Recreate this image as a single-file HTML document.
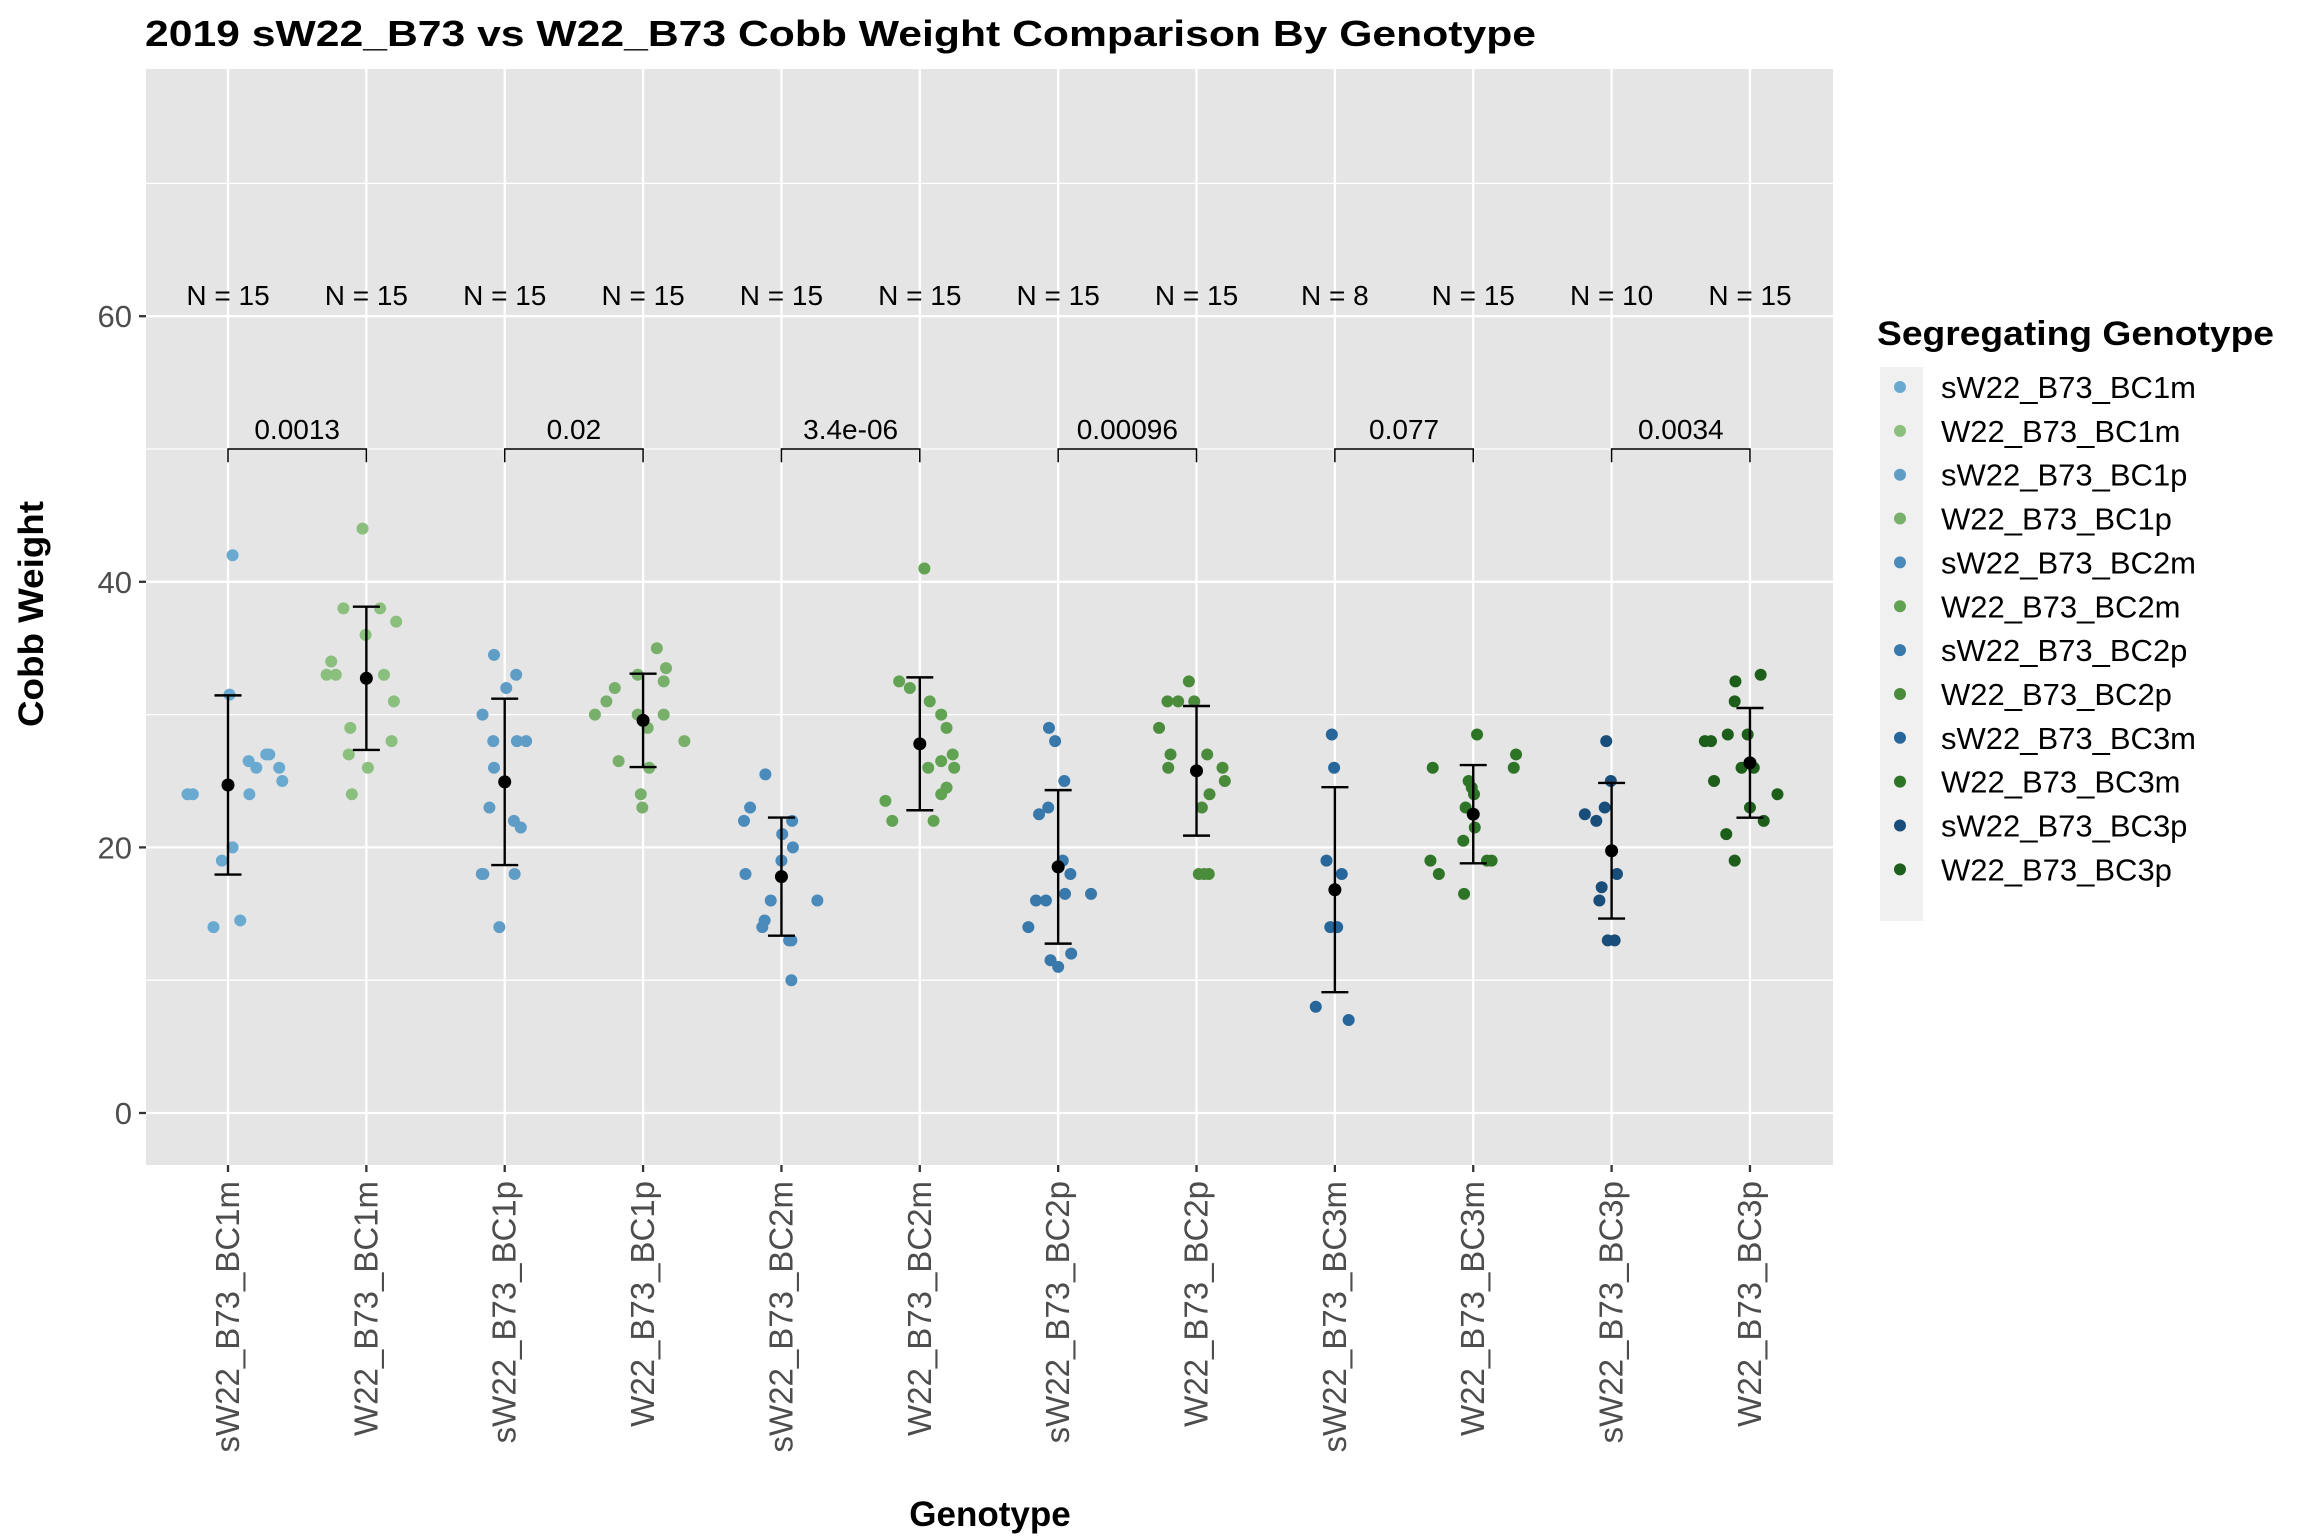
<!DOCTYPE html>
<html><head><meta charset="utf-8"><style>
html,body{margin:0;padding:0;background:#fff;}
svg{display:block;font-family:"Liberation Sans",Arial,sans-serif;}
</style></head><body>
<svg id="chart" width="2304" height="1536" viewBox="0 0 2304 1536" xmlns="http://www.w3.org/2000/svg">
<rect x="0" y="0" width="2304" height="1536" fill="#fff"/>
<text x="145" y="46" font-size="36" font-weight="bold" textLength="1391" lengthAdjust="spacingAndGlyphs">2019 sW22_B73 vs W22_B73 Cobb Weight Comparison By Genotype</text>
<rect x="146" y="69" width="1687" height="1096" fill="#e5e5e5"/>
<g id="grid"></g>
<g id="marks"></g>
<text transform="translate(43,614) rotate(-90)" text-anchor="middle" font-size="35" font-weight="bold" textLength="226" lengthAdjust="spacingAndGlyphs">Cobb Weight</text>
<text x="990" y="1526" text-anchor="middle" font-size="35" font-weight="bold">Genotype</text>
<g id="legend">
<text x="1877" y="345" font-size="34" font-weight="bold" textLength="397" lengthAdjust="spacingAndGlyphs">Segregating Genotype</text>
<rect x="1880" y="367" width="43" height="554" fill="#f0f0f0"/>
</g>
</svg>
<script>
const categories = ["sW22_B73_BC1m","W22_B73_BC1m","sW22_B73_BC1p","W22_B73_BC1p","sW22_B73_BC2m","W22_B73_BC2m","sW22_B73_BC2p","W22_B73_BC2p","sW22_B73_BC3m","W22_B73_BC3m","sW22_B73_BC3p","W22_B73_BC3p"];
const colors = ["#6aaad0","#8bbf7e","#5f9cc6","#78b06b","#4b8bbb","#62a253","#3878ab","#4a8c3c","#26669a","#2d7426","#1a4e7a","#1d5e1a"];
const values = [
 [24,24,42,31.5,26.5,26,27,27,26,25,24,20,19,14,14.5],
 [44,38,38,37,36,34,33,33,33,31,29,28,27,26,24],
 [34.5,33,32,30,28,28,28,26,23,22,21.5,18,18,18,14],
 [35,33.5,33,32.5,32,31,30,30,30,29,28,26.5,26,24,23],
 [25.5,23,22,22,21,20,19,18,16,16,14.5,14,13,13,10],
 [41,32.5,32,31,30,29,27,26.5,26,26,24.5,24,23.5,22,22],
 [29,28,25,23,22.5,19,18,16.5,16.5,16,16,14,12,11.5,11],
 [32.5,31,31,31,29,27,27,26,26,25,24,23,18,18,18],
 [28.5,26,19,18,14,14,8,7],
 [28.5,27,26,26,25,24,23,21.5,20.5,19,19,18,16.5,19,24.5],
 [28,25,23,22.5,22,18,17,16,13,13],
 [33,32.5,31,28.5,28.5,28,28,26,26,25,24,23,22,21,19]
];
// horizontal jitter (fraction of category spacing)
const jitter = [
 [-53,-46,6,2,27,37,50,54,67,71,28,6,-8,-19,16],
 [-5,-30,18,39,-1,-46,-52,-40,23,36,-21,33,-23,2,-19],
 [-14,15,2,-29,-15,16,28,-14,-20,12,21,-30,-28,13,-7],
 [18,30,-7,27,-37,-48,-63,-7,27,6,54,-32,8,-3,-1],
 [-21,-41,-49,14,1,15,0,-47,-14,47,-22,-25,10,13,13],
 [6,-27,-13,13,28,35,43,28,11,45,35,28,-45,-36,18],
 [-12,-4,8,-13,-25,6,16,9,43,-29,-16,-39,17,-10,0],
 [-10,-38,-24,-3,-49,14,-34,-37,34,37,17,7,3,16,10],
 [-4,-1,-11,9,-6,3,-25,18],
 [5,56,-53,53,-6,1,-10,2,-13,-56,24,-45,-12,18,-2],
 [-7,-1,-9,-35,-20,7,-13,-16,-5,4],
 [14,-19,-20,-3,-29,-59,-51,5,-11,-47,36,0,18,-31,-20]
];
const pLabels = ["0.0013","0.02","3.4e-06","0.00096","0.077","0.0034"];
const yTicks = [0,20,40,60];
const yMinor = [10,30,50,70];

const NS="http://www.w3.org/2000/svg";
const X0=228, DX=138.36;
const xs = i => X0 + i*DX;
const ys = v => 1113 - v*13.28;
function mk(tag, attrs, parent){const e=document.createElementNS(NS,tag);for(const k in attrs)e.setAttribute(k,attrs[k]);parent.appendChild(e);return e;}
const grid=document.getElementById('grid'), marks=document.getElementById('marks'), svg=document.getElementById('chart'), legend=document.getElementById('legend');

yMinor.forEach(v=>{const l=mk('line',{x1:146,x2:1833,y1:ys(v),y2:ys(v),stroke:'#fff','stroke-width':1.3},grid);

});
yTicks.forEach(v=>{const l=mk('line',{x1:146,x2:1833,y1:ys(v),y2:ys(v),stroke:'#fff','stroke-width':2.3},grid);


const t=mk('line',{x1:139,x2:146,y1:ys(v),y2:ys(v),stroke:'#333','stroke-width':2.3},svg);


const tx=mk('text',{x:132,y:ys(v)+11,'text-anchor':'end','font-size':31,fill:'#4d4d4d'},svg);
tx.textContent=v;

});

categories.forEach((c,i)=>{
 const x=xs(i);
 const g=mk('line',{x1:x,x2:x,y1:69,y2:1165,stroke:'#fff','stroke-width':2.3},grid);
 
 
 const t=mk('line',{x1:x,x2:x,y1:1165,y2:1172,stroke:'#333','stroke-width':2.3},svg);
 
 
 const lb=mk('text',{transform:`translate(${x+11},1181) rotate(-90)`,'text-anchor':'end','font-size':33,fill:'#4d4d4d'},svg);
 lb.textContent=c;
 
 
 const vals=values[i];
 vals.forEach((v,j)=>{
  const d=mk('circle',{cx:x+jitter[i][j]/181*DX,cy:ys(v),r:6,fill:colors[i]},marks);
  
  
 });
 const n=vals.length, m=vals.reduce((a,b)=>a+b,0)/n;
 const sd=Math.sqrt(vals.reduce((a,b)=>a+(b-m)*(b-m),0)/(n-1));
 const eb=mk('g',{},marks);
 
 
 mk('line',{x1:x,x2:x,y1:ys(m+sd),y2:ys(m-sd),stroke:'#000','stroke-width':2.4},eb);
 mk('line',{x1:x-13.5,x2:x+13.5,y1:ys(m+sd),y2:ys(m+sd),stroke:'#000','stroke-width':2.4},eb);
 mk('line',{x1:x-13.5,x2:x+13.5,y1:ys(m-sd),y2:ys(m-sd),stroke:'#000','stroke-width':2.4},eb);
 const md=mk('circle',{cx:x,cy:ys(m),r:6.5,fill:'#000'},marks);
 
 
 const nt=mk('text',{x:x,y:ys(61.6)+10,'text-anchor':'middle','font-size':28},marks);
 nt.textContent='N = '+n;
 
 
 // legend
 const ly=387+i*43.85;
 const ld=mk('circle',{cx:1900,cy:ly,r:6,fill:colors[i]},legend);
 
 
 const lt=mk('text',{x:1941,y:ly+11,'font-size':31},legend);
 lt.textContent=c;
 
 
});

pLabels.forEach((p,k)=>{
 const a=xs(2*k), b=xs(2*k+1);
 const br=mk('path',{d:`M${a},${ys(49)} L${a},${ys(50)} L${b},${ys(50)} L${b},${ys(49)}`,fill:'none',stroke:'#000','stroke-width':1.5},marks);
 
 
 const t=mk('text',{x:(a+b)/2,y:ys(51.5)+10,'text-anchor':'middle','font-size':28},marks);
 t.textContent=p;
 
 
});
</script>
</body></html>
